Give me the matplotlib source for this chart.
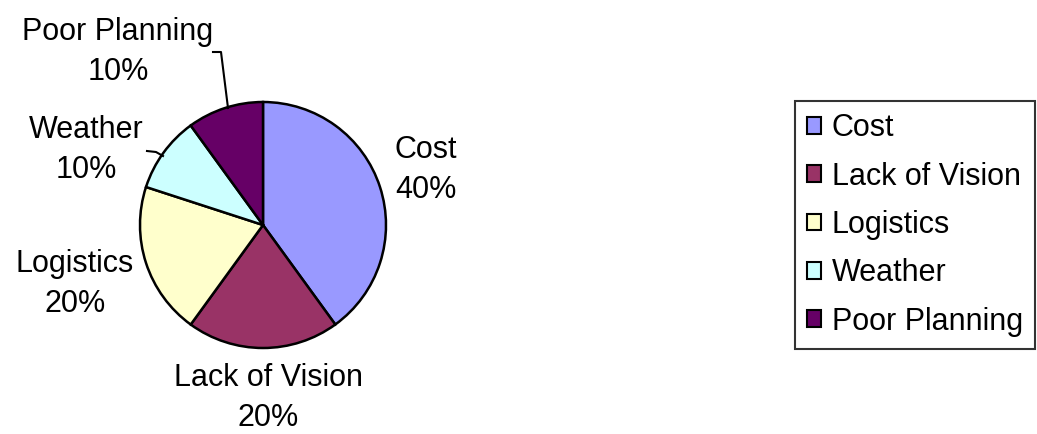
import matplotlib
matplotlib.use("Agg")
import matplotlib.pyplot as plt
from matplotlib.patches import Patch

categories = ["Cost", "Lack of Vision", "Logistics", "Weather", "Poor Planning"]
values = [40, 20, 20, 10, 10]
colors = ["#9999FF", "#993366", "#FFFFCC", "#CCFFFF", "#660066"]

plt.rcParams['font.family'] = ['Liberation Sans', 'DejaVu Sans']

W, H = 1037, 434
fig = plt.figure(figsize=(W / 100, H / 100), dpi=100)

cx, cy, r = 263, 225, 123
ax = fig.add_axes([(cx - r) / W, (H - cy - r) / H, 2 * r / W, 2 * r / H])
wedges, _ = ax.pie(values, colors=colors, startangle=90, counterclock=False,
                   wedgeprops=dict(edgecolor="black", linewidth=1.8))
ax.set_xlim(-1, 1)
ax.set_ylim(-1, 1)
ax.set_aspect("equal")
ax.axis("off")


def d(px, py):
    return ((px - cx) / r, (cy - py) / r)


fs = 22
label_pos = [(426, 170), (268, 398), (75, 284), (86, 150), (118, 52)]
total = sum(values)
for cat, v, (px, py) in zip(categories, values, label_pos):
    x, y = d(px, py)
    ax.text(x, y, f"{cat}\n{round(100 * v / total)}%", ha="center", va="center",
            fontsize=fs, linespacing=1.45, clip_on=False)

# leader lines
ax.plot(*zip(d(213, 52), d(221, 52), d(228, 108)), color="black", lw=1.5, clip_on=False)
ax.plot(*zip(d(147, 151), d(156, 152), d(163, 156)), color="black", lw=1.5, clip_on=False)

handles = [Patch(facecolor=c, edgecolor="black", linewidth=1.5) for c in colors]
leg = fig.legend(handles, categories, loc="upper left",
                 bbox_to_anchor=(795 / W, 1 - 101 / H), fontsize=fs,
                 frameon=True, fancybox=False, edgecolor="black",
                 handlelength=0.45, handleheight=0.45, handletextpad=0.35,
                 labelspacing=0.6, borderpad=0.4, borderaxespad=0)
leg.get_frame().set_linewidth(1.5)

fig.savefig("out.png", dpi=100)
